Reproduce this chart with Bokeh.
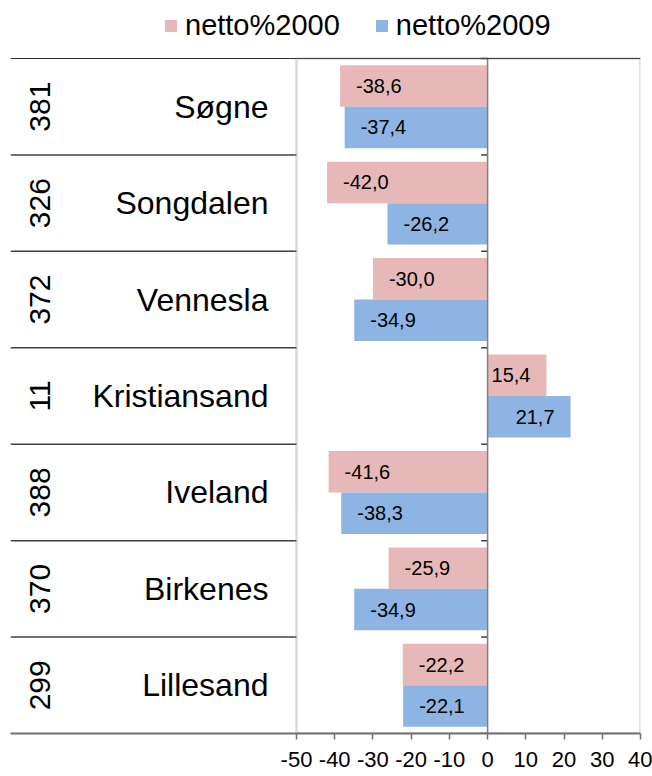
import math
from bokeh.plotting import figure
from bokeh.models import (ColumnDataSource, Range1d, FixedTicker, Span,
                          BoxAnnotation, Legend, LegendItem)
from bokeh.transform import dodge
from bokeh.core.properties import value, field
from bokeh.embed import file_html
from bokeh.resources import INLINE

# ---- data ----
names = ["Søgne", "Songdalen", "Vennesla", "Kristiansand", "Iveland", "Birkenes", "Lillesand"]
codes = ["381", "326", "372", "11", "388", "370", "299"]
netto2000 = [-38.6, -42.0, -30.0, 15.4, -41.6, -25.9, -22.2]
netto2009 = [-37.4, -26.2, -34.9, 21.7, -38.3, -34.9, -22.1]
x_ticks = [-50, -40, -30, -20, -10, 0, 10, 20, 30, 40]
x_tick_labels = ["-50", "-40", "-30", "-20", "-10", "0", "10", "20", "30", "40"]
series_labels = ["netto%2000", "netto%2009"]

FONT = "Liberation Sans"
PINK = "#E6B9B8"
BLUE = "#8EB4E3"
GRID = "#7f7f7f"
DARK = "#404040"


def fmt(v):
    return f"{v:.1f}".replace(".", ",")


n = len(names)
src = ColumnDataSource(dict(
    name=names, code=codes,
    pos=[n - i - 0.5 for i in range(n)],          # category slot, top to bottom
    v2000=netto2000, v2009=netto2009,
    lab2000=[fmt(v) for v in netto2000], lab2009=[fmt(v) for v in netto2009],
    al2000=["left" if v < 0 else "right" for v in netto2000],
    al2009=["left" if v < 0 else "right" for v in netto2009],
    off2000=[16 if v < 0 else -16 for v in netto2000],
    off2009=[16 if v < 0 else -16 for v in netto2009],
))

W, H = 652, 776
frame_left, plot_left, frame_right = 10, 296, 640
frame_bottom, plot_top = 733, 58
px_per_unit = (frame_right - plot_left) / (x_ticks[-1] - x_ticks[0])
xmin = x_ticks[0] - (plot_left - frame_left) / px_per_unit
cat_px = (frame_bottom - plot_top) / n
ymax = n + plot_top / cat_px

p = figure(width=W, height=H, output_backend="svg", toolbar_location=None,
           x_range=Range1d(xmin, x_ticks[-1]), y_range=Range1d(0, ymax),
           y_axis_location=None,
           min_border_left=frame_left, min_border_right=W - frame_right,
           min_border_top=0, min_border_bottom=H - frame_bottom)
p.outline_line_color = None
p.grid.visible = False
p.background_fill_color = "white"

r1 = p.hbar(y=dodge("pos", 0.215), left=0, right="v2000", height=0.43,
            source=src, fill_color=PINK, line_color=None)
r2 = p.hbar(y=dodge("pos", -0.215), left=0, right="v2009", height=0.43,
            source=src, fill_color=BLUE, line_color=None)

p.text(x="v2000", y=dodge("pos", 0.215), text="lab2000",
       text_align=field("al2000"), x_offset="off2000", text_baseline="middle",
       text_font=value(FONT), text_font_size="20px", text_color="black", source=src)
p.text(x="v2009", y=dodge("pos", -0.215), text="lab2009",
       text_align=field("al2009"), x_offset="off2009", text_baseline="middle",
       text_font=value(FONT), text_font_size="20px", text_color="black", source=src)

# category labels (names and rotated codes)
p.text(x=x_ticks[0], y="pos", text="name", x_offset=-28, text_align="right",
       text_baseline="middle", text_font=value(FONT), text_font_size="32px",
       text_color="black", source=src)
p.text(x=x_ticks[0], y="pos", text="code", x_offset=-257, angle=math.pi / 2,
       text_align="center", text_baseline="middle", text_font=value(FONT),
       text_font_size="30px", text_color="black", source=src)

# separators in the category area and small ticks on the zero line
bounds = ColumnDataSource(dict(y=list(range(1, n))))
p.segment(x0=xmin, x1=x_ticks[0], y0="y", y1="y", source=bounds,
          line_color=DARK, line_width=1.5)
ticks0 = ColumnDataSource(dict(y=list(range(0, n + 1))))
p.segment(x0=0, x1=-1.7, y0="y", y1="y", source=ticks0, line_color=DARK, line_width=1.5)
p.segment(x0=[0], x1=[0], y0=[0], y1=[n], line_color=GRID, line_width=1.5)

p.add_layout(Span(location=n, dimension="width", line_color="#303030", line_width=1.2))
p.add_layout(BoxAnnotation(left=x_ticks[0], right=x_ticks[-1], top=n, fill_color=None,
                           line_color=GRID, line_width=2.5))

ax = p.xaxis[0]
ax.ticker = FixedTicker(ticks=x_ticks)
ax.major_label_overrides = {t: s for t, s in zip(x_ticks, x_tick_labels)}
ax.axis_line_color = "#6f6f6f"
ax.axis_line_width = 2
ax.major_tick_out = 6
ax.major_tick_in = 0
ax.minor_tick_line_color = None
ax.major_tick_line_color = "#6f6f6f"
ax.major_tick_line_width = 1.5
ax.major_label_text_font = FONT
ax.major_label_text_font_size = "22px"
ax.major_label_text_color = "black"
ax.major_label_standoff = 12

legend = Legend(items=[LegendItem(label=series_labels[0], renderers=[r1]),
                       LegendItem(label=series_labels[1], renderers=[r2])],
                orientation="horizontal", location=(153, frame_bottom - 42),
                glyph_width=15, glyph_height=15, label_standoff=7, spacing=34,
                padding=0, margin=0, border_line_color=None, background_fill_alpha=0,
                label_text_font=FONT, label_text_font_size="29px",
                label_text_color="black")
p.add_layout(legend, "center")

open("out.html", "w").write(file_html(p, INLINE))
